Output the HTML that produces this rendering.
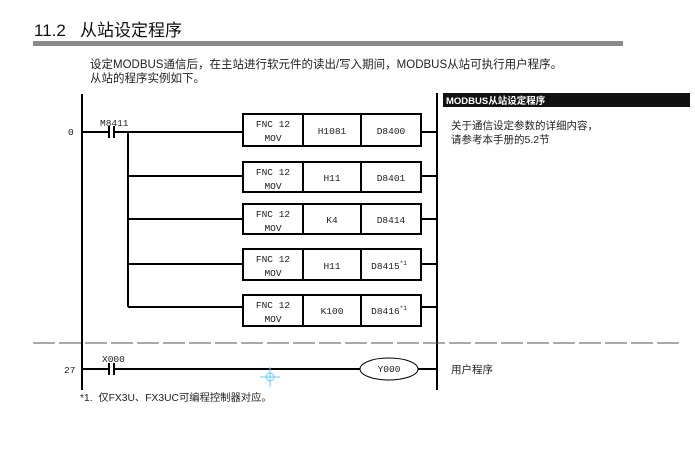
<!DOCTYPE html>
<html><head><meta charset="utf-8"><style>
html,body{margin:0;padding:0;background:#fff;width:695px;height:469px;overflow:hidden}
svg{display:block}
text{font-family:"Liberation Mono","Noto Sans CJK SC",monospace;fill:#222}
.cn{font-family:"Liberation Sans","Noto Sans CJK SC",sans-serif}
</style></head><body>
<svg width="695" height="469" viewBox="0 0 695 469" xmlns="http://www.w3.org/2000/svg">
<text x="34" y="36" class="cn" font-size="17" style="fill:#111">11.2&#160;&#160;&#160;从站设定程序</text>
<rect x="33" y="41" width="590" height="5" fill="#8a8a8a"/>
<text x="90" y="68" class="cn" font-size="11.5">设定MODBUS通信后，在主站进行软元件的读出/写入期间，MODBUS从站可执行用户程序。</text>
<text x="90" y="82" class="cn" font-size="11.5">从站的程序实例如下。</text>

<g stroke="#000" stroke-width="2" fill="none">
<line x1="82" y1="94" x2="82" y2="390"/>
<line x1="437" y1="93" x2="437" y2="390"/>
<line x1="82" y1="132" x2="109" y2="132"/>
<line x1="114" y1="132" x2="243" y2="132"/>
<line x1="109" y1="126" x2="109" y2="138"/>
<line x1="114" y1="126" x2="114" y2="138"/>
<line x1="128" y1="132" x2="128" y2="307"/>
<line x1="128" y1="176" x2="243" y2="176"/>
<line x1="128" y1="219" x2="243" y2="219"/>
<line x1="128" y1="264" x2="243" y2="264"/>
<line x1="128" y1="307" x2="243" y2="307"/>
<line x1="421" y1="132" x2="437" y2="132"/>
<line x1="421" y1="176" x2="437" y2="176"/>
<line x1="421" y1="219" x2="437" y2="219"/>
<line x1="421" y1="264" x2="437" y2="264"/>
<line x1="421" y1="307" x2="437" y2="307"/>
<rect x="243" y="114" width="178" height="32"/>
<rect x="243" y="162" width="178" height="30"/>
<rect x="243" y="204" width="178" height="30"/>
<rect x="243" y="249" width="178" height="31"/>
<rect x="243" y="295" width="178" height="31"/>
<line x1="303" y1="114" x2="303" y2="146"/><line x1="361" y1="114" x2="361" y2="146"/>
<line x1="303" y1="162" x2="303" y2="192"/><line x1="361" y1="162" x2="361" y2="192"/>
<line x1="303" y1="204" x2="303" y2="234"/><line x1="361" y1="204" x2="361" y2="234"/>
<line x1="303" y1="249" x2="303" y2="280"/><line x1="361" y1="249" x2="361" y2="280"/>
<line x1="303" y1="295" x2="303" y2="326"/><line x1="361" y1="295" x2="361" y2="326"/>
<line x1="82" y1="369" x2="109" y2="369"/>
<line x1="114" y1="369" x2="360" y2="369"/>
<line x1="109" y1="363" x2="109" y2="375"/>
<line x1="114" y1="363" x2="114" y2="375"/>
<line x1="418" y1="369" x2="437" y2="369"/>
</g>
<ellipse cx="389" cy="369" rx="29" ry="11" fill="none" stroke="#000" stroke-width="1"/>
<line x1="33" y1="343" x2="680" y2="343" stroke="#555" stroke-width="1" stroke-dasharray="22,4"/>

<g font-size="9.5" text-anchor="middle">
<text x="273" y="127">FNC 12</text><text x="273" y="141">MOV</text>
<text x="332" y="134">H1081</text><text x="391" y="134">D8400</text>
<text x="273" y="175">FNC 12</text><text x="273" y="189">MOV</text>
<text x="332" y="181">H11</text><text x="391" y="181">D8401</text>
<text x="273" y="217">FNC 12</text><text x="273" y="231">MOV</text>
<text x="332" y="223">K4</text><text x="391" y="223">D8414</text>
<text x="273" y="262">FNC 12</text><text x="273" y="276">MOV</text>
<text x="332" y="269">H11</text><text x="389" y="269">D8415<tspan font-size="6" dy="-4">*1</tspan></text>
<text x="273" y="308">FNC 12</text><text x="273" y="322">MOV</text>
<text x="332" y="314">K100</text><text x="389" y="314">D8416<tspan font-size="6" dy="-4">*1</tspan></text>
<text x="389" y="372">Y000</text>
</g>
<g font-size="9.5">
<text x="100" y="126">M8411</text>
<text x="102" y="362">X000</text>
<text x="68" y="135">0</text>
<text x="64" y="373">27</text>
</g>
<circle cx="270" cy="377" r="4" fill="none" stroke="#6cf" stroke-width="1"/>
<line x1="260" y1="377" x2="280" y2="377" stroke="#6cf" stroke-width="1"/>
<line x1="270" y1="367" x2="270" y2="387" stroke="#6cf" stroke-width="1"/>

<rect x="443" y="93" width="247" height="14" fill="#111"/>
<text x="446" y="104" class="cn" font-size="9.5" font-weight="bold" style="fill:#fff">MODBUS从站设定程序</text>
<text x="451" y="129" class="cn" font-size="10.5">关于通信设定参数的详细内容，</text>
<text x="451" y="143" class="cn" font-size="10.5">请参考本手册的5.2节</text>
<text x="451" y="373" class="cn" font-size="10.5">用户程序</text>
<text x="80" y="401" class="cn" font-size="10.3">*1.&#160;&#160;仅FX3U、FX3UC可编程控制器对应。</text>
</svg>
</body></html>
